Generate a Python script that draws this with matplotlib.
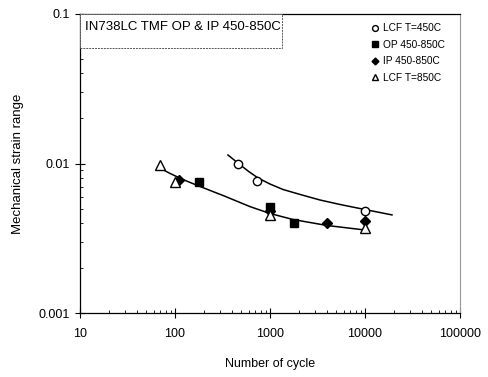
import matplotlib.pyplot as plt
from matplotlib.patches import Rectangle
from matplotlib.ticker import LogLocator, FixedLocator, NullFormatter

plt.rcParams['font.family'] = ['Liberation Sans', 'DejaVu Sans']

# Points expérimentaux
lcf450_n = [460, 730, 10000]
lcf450_eps = [0.0100, 0.0076, 0.0048]

op_n = [180, 1000, 1800]
op_eps = [0.0075, 0.0051, 0.0040]

ip_n = [110, 1000, 4000, 10000]
ip_eps = [0.0078, 0.0048, 0.0040, 0.0041]

lcf850_n = [70, 100, 1000, 10000]
lcf850_eps = [0.0097, 0.0075, 0.0045, 0.0037]

# Courbes de tendance
trend_hi_n = [361, 460, 587, 748, 1000, 1371, 2070, 3357, 5458, 10000, 19240]
trend_hi_eps = [0.0114, 0.01007, 0.00891, 0.0080, 0.00729, 0.0067, 0.00621, 0.0057, 0.00532, 0.00492, 0.00453]
trend_lo_n = [66, 89, 118, 179, 320, 615, 1000, 1746, 3981, 10000]
trend_lo_eps = [0.00948, 0.00857, 0.00787, 0.00706, 0.00611, 0.00515, 0.00463, 0.00422, 0.00385, 0.00359]

fig = plt.figure(figsize=(4.89, 3.77), dpi=100)
ax = fig.add_axes([80 / 489, 1 - 313 / 377, 380 / 489, 299 / 377])

ax.plot(trend_hi_n, trend_hi_eps, color='black', lw=1.1)
ax.plot(trend_lo_n, trend_lo_eps, color='black', lw=1.1)

ax.plot(lcf450_n, lcf450_eps, 'o', ms=6, mfc='white', mec='black', mew=1.0, label='LCF T=450C')
ax.plot(op_n, op_eps, 's', ms=5.5, color='black', label='OP 450-850C')
ax.plot(ip_n, ip_eps, 'D', ms=5, color='black', label='IP 450-850C')
ax.plot(lcf850_n, lcf850_eps, '^', ms=6.5, mfc='white', mec='black', mew=1.0, label='LCF T=850C')

ax.set_xscale('log')
ax.set_yscale('log')
ax.set_xlim(10, 100000)
ax.set_ylim(0.001, 0.1)

ax.xaxis.set_major_locator(FixedLocator([10, 100, 1000, 10000, 100000]))
ax.set_xticklabels(['10', '100', '1000', '10000', '100000'])
ax.yaxis.set_major_locator(FixedLocator([0.001, 0.01, 0.1]))
ax.set_yticklabels(['0.001', '0.01', '0.1'])
ax.xaxis.set_minor_locator(LogLocator(base=10, subs=range(2, 10)))
ax.yaxis.set_minor_locator(LogLocator(base=10, subs=range(2, 10)))
ax.xaxis.set_minor_formatter(NullFormatter())
ax.yaxis.set_minor_formatter(NullFormatter())

ax.tick_params(which='major', direction='inout', length=7, width=0.8, labelsize=9, pad=4)
ax.tick_params(which='minor', direction='in', length=2.5, width=0.6)
ax.tick_params(axis='x', which='major', pad=7)

ax.spines['right'].set_color('#999999')
for s in ['left', 'bottom', 'top']:
    ax.spines[s].set_linewidth(0.9)

ax.set_xlabel('Number of cycle', fontsize=9, labelpad=13)
ax.set_ylabel('Mechanical strain range', fontsize=9.5, labelpad=10)

# Cadre du titre
ax.add_patch(Rectangle((0, 0.886), 0.532, 0.114, transform=ax.transAxes, fc='white',
                       ec='#555555', lw=0.7, ls=(0, (2, 1)), zorder=3))
ax.text(0.013, 0.957, 'IN738LC TMF OP & IP 450-850C', transform=ax.transAxes,
        fontsize=9.5, va='center', ha='left', zorder=4)

leg = ax.legend(loc='upper right', bbox_to_anchor=(0.975, 0.99), frameon=False, fontsize=7.3,
                handlelength=0.8, handletextpad=0.3, labelspacing=0.65, markerscale=0.7,
                borderaxespad=0.2)

fig.savefig('out.png', dpi=100)
